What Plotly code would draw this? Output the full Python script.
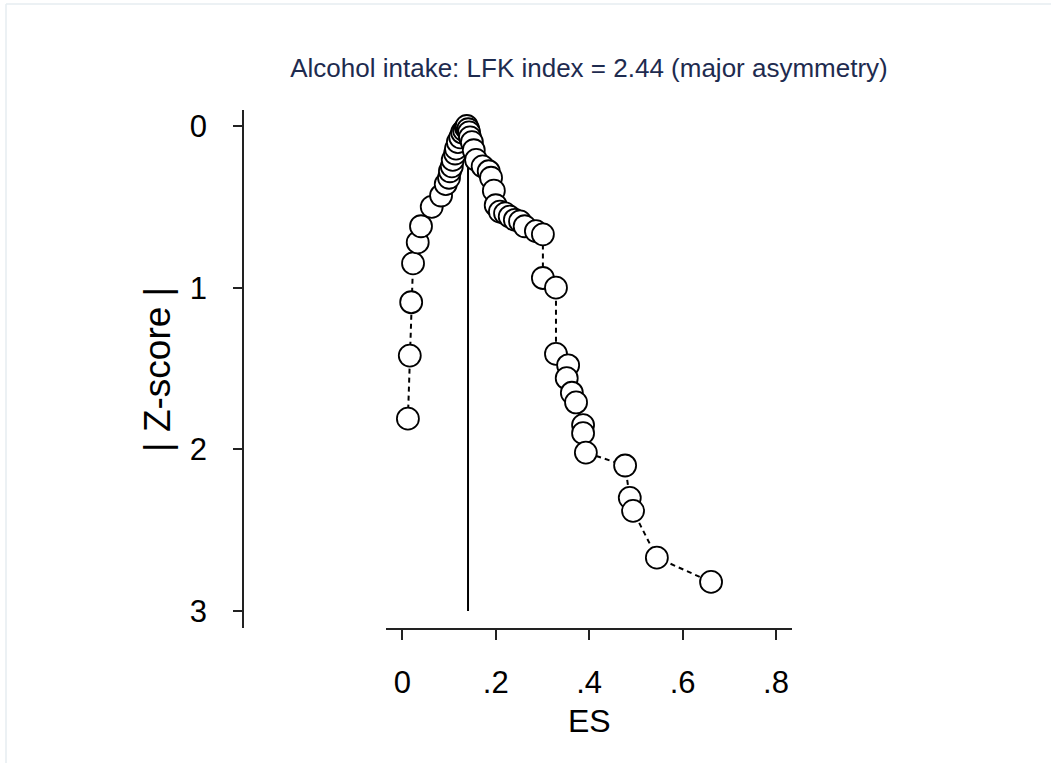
import plotly.graph_objects as go

# Study effect sizes and absolute Z-scores, in the order joined by the dashed curve
es = [0.012, 0.016, 0.019, 0.023, 0.033, 0.040, 0.063, 0.083, 0.093, 0.100,
      0.102, 0.106, 0.108, 0.113, 0.115, 0.119, 0.124, 0.128, 0.132, 0.136,
      0.138, 0.141, 0.143, 0.145, 0.149, 0.153, 0.158, 0.172, 0.185, 0.190,
      0.196, 0.200, 0.209, 0.220, 0.230, 0.241, 0.252, 0.262, 0.286, 0.301,
      0.301, 0.329, 0.329, 0.355, 0.352, 0.363, 0.372, 0.387, 0.387, 0.393,
      0.477, 0.487, 0.494, 0.545, 0.661]
z_abs = [1.81, 1.42, 1.09, 0.85, 0.72, 0.62, 0.50, 0.43, 0.36, 0.32,
         0.28, 0.25, 0.21, 0.17, 0.14, 0.10, 0.07, 0.04, 0.025, 0.01,
         0.00, 0.02, 0.04, 0.07, 0.10, 0.15, 0.21, 0.25, 0.28, 0.32,
         0.40, 0.49, 0.53, 0.54, 0.56, 0.58, 0.59, 0.62, 0.65, 0.67,
         0.94, 1.00, 1.41, 1.48, 1.56, 1.65, 1.71, 1.85, 1.90, 2.02,
         2.10, 2.30, 2.38, 2.67, 2.82]

pooled_es = 0.1407
ref_z = [0, 3]

x_ticks = [0, 0.2, 0.4, 0.6, 0.8]
x_tick_text = ["0", ".2", ".4", ".6", ".8"]
y_ticks = [0, 1, 2, 3]

title_text = "Alcohol intake: LFK index = 2.44 (major asymmetry)"

W, H = 1051, 763
FONT = "Arial, Liberation Sans, sans-serif"

fig = go.Figure()

# vertical reference line at the pooled effect
fig.add_trace(go.Scatter(
    x=[pooled_es, pooled_es], y=ref_z, mode="lines",
    line=dict(color="black", width=2), hoverinfo="skip", showlegend=False,
))

# Doi plot curve
fig.add_trace(go.Scatter(
    x=es, y=z_abs, mode="lines+markers",
    line=dict(color="black", width=2, dash="5px,4px"),
    marker=dict(size=22, color="white", line=dict(color="black", width=1.8)),
    showlegend=False, cliponaxis=False,
))

fig.update_layout(
    width=W, height=H,
    margin=dict(l=0, r=0, t=0, b=0),
    paper_bgcolor="white", plot_bgcolor="white",
    font=dict(family=FONT, color="black"),
    title=dict(text=title_text, x=589 / W, y=1 - 68 / H,
               xanchor="center", yanchor="middle",
               font=dict(family=FONT, size=26, color="#1e2b4f")),
    xaxis=dict(
        domain=[386 / W, 792 / W], range=[-0.0349, 0.8343],
        anchor="y", showgrid=False, zeroline=False,
        showline=True, linecolor="#222", linewidth=1.5,
        ticks="outside", ticklen=10, tickwidth=1.5, tickcolor="#222",
        tickvals=x_ticks, ticktext=x_tick_text,
        tickfont=dict(size=31, family=FONT, color="black"),
        ticklabelstandoff=16, automargin=False,
    ),
    yaxis=dict(
        domain=[1 - 628 / H, 1 - 110 / H], range=[3.105, -0.099],
        anchor="free", position=243 / W, showgrid=False, zeroline=False,
        showline=True, linecolor="#222", linewidth=1.5,
        ticks="outside", ticklen=9, tickwidth=1.5, tickcolor="#222",
        tickvals=y_ticks, ticktext=[str(v) for v in y_ticks],
        tickfont=dict(size=31, family=FONT, color="black"),
        ticklabelstandoff=20, automargin=False,
    ),
    annotations=[
        dict(text="ES", x=589 / W, y=1 - 721 / H, xref="paper", yref="paper",
             xanchor="center", yanchor="middle", showarrow=False,
             font=dict(size=32, family=FONT, color="black")),
        dict(text="| Z-score |", x=158 / W, y=1 - 370 / H, xref="paper", yref="paper",
             xanchor="center", yanchor="middle", showarrow=False, textangle=-90,
             font=dict(size=37, family=FONT, color="black")),
    ],
    shapes=[
        dict(type="line", xref="paper", yref="paper",
             x0=6 / W, x1=1, y0=1 - 4 / H, y1=1 - 4 / H,
             line=dict(color="#e6edf0", width=1.5)),
        dict(type="line", xref="paper", yref="paper",
             x0=6 / W, x1=6 / W, y0=0, y1=1 - 4 / H,
             line=dict(color="#e6edf0", width=1.5)),
    ],
)

fig.write_html("out.html")
